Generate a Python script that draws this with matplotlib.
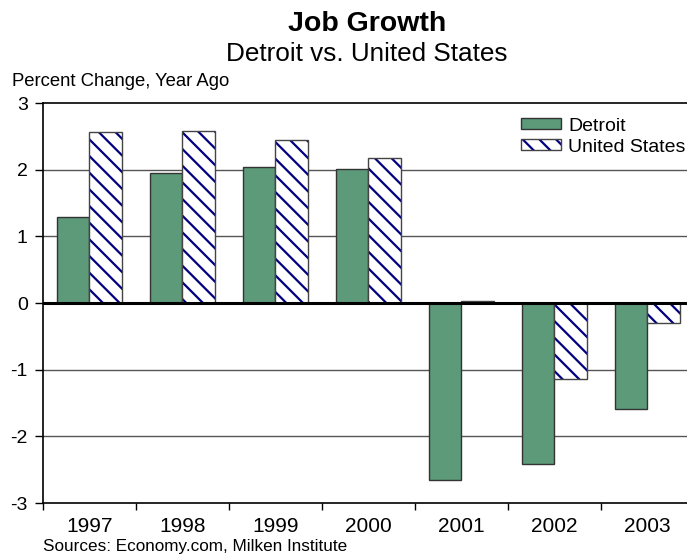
import matplotlib.pyplot as plt
from matplotlib.patches import Patch
import numpy as np

plt.rcParams['font.family'] = ['Liberation Sans', 'DejaVu Sans']
plt.rcParams['hatch.linewidth'] = 1.6

# Data
years = ['1997', '1998', '1999', '2000', '2001', '2002', '2003']
detroit = [1.29, 1.95, 2.04, 2.01, -2.65, -2.41, -1.59]
united_states = [2.56, 2.58, 2.44, 2.17, 0.03, -1.14, -0.30]

fig = plt.figure(figsize=(6.87, 5.58), dpi=100)
ax = fig.add_axes([43 / 687, 55 / 558, 650.7 / 687, 400 / 558])

x = np.arange(len(years))
w = 0.35
ax.bar(x - w / 2, detroit, w, color='#5C9A79', edgecolor='#333333',
       linewidth=1, zorder=3)
# hatch takes the edge colour, so draw the navy hatch first and the outline on top
ax.bar(x + w / 2, united_states, w, color='white', edgecolor='#000080',
       linewidth=0, hatch='\\\\', zorder=3)
ax.bar(x + w / 2, united_states, w, fill=False, edgecolor='#444444',
       linewidth=1, zorder=3.5)

ax.set_xlim(-0.5, len(years) - 0.5)
ax.set_ylim(-3, 3)
ax.set_yticks(range(-3, 4))
ax.set_yticklabels([str(v) for v in range(-3, 4)], fontsize=14)

# category labels between boundary ticks
ax.set_xticks(np.arange(-0.5, len(years), 1.0))
ax.set_xticklabels([])
ax.set_xticks(x, minor=True)
ax.set_xticklabels(years, minor=True, fontsize=15)
ax.tick_params(axis='x', which='minor', length=0, pad=10)
ax.tick_params(axis='x', which='major', direction='out', length=5, width=1)
ax.tick_params(axis='y', direction='out', length=6, width=1, pad=5)

for v in [-2, -1, 1, 2]:
    ax.axhline(v, color='#555555', linewidth=1, zorder=1)
ax.axhline(0, color='black', linewidth=2.2, zorder=4)

for s in ['top', 'left', 'bottom']:
    ax.spines[s].set_color('black')
    ax.spines[s].set_linewidth(1.2)
ax.spines['right'].set_visible(False)

fig.text(367 / 687, 1 - 24 / 558, 'Job Growth', ha='center', va='center',
         fontsize=20.5, fontweight='bold')
fig.text(367 / 687, 1 - 54 / 558, 'Detroit vs. United States', ha='center',
         va='center', fontsize=18.8)
fig.text(12 / 687, 1 - 82 / 558, 'Percent Change, Year Ago', ha='left',
         va='center', fontsize=13.3)
fig.text(43 / 687, 1 - 547 / 558, 'Sources: Economy.com, Milken Institute',
         ha='left', va='center', fontsize=12.3)

h_det = Patch(facecolor='#5C9A79', edgecolor='#333333', linewidth=1)
h_us = (Patch(facecolor='white', edgecolor='#000080', hatch='\\\\', linewidth=0),
        Patch(fill=False, edgecolor='#444444', linewidth=1))
fig.legend([h_det, h_us], ['Detroit', 'United States'], loc='upper left',
           bbox_to_anchor=(513 / 687, 1 - 110 / 558),
           frameon=False, fontsize=14, handlelength=2.05,
           handleheight=0.5, handletextpad=0.4, labelspacing=0.2,
           borderaxespad=0)

fig.savefig('out.png', dpi=100)
